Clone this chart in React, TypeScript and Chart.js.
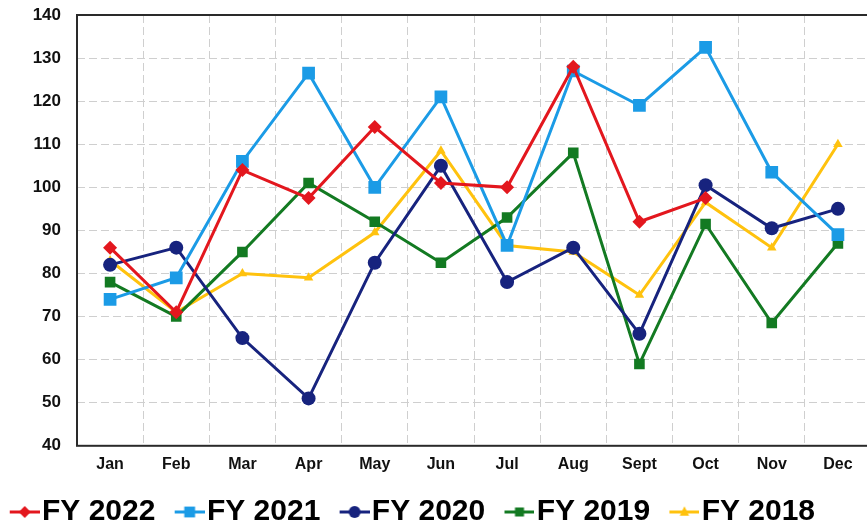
import React, { useEffect, useRef } from "react";
import { Chart, registerables } from "chart.js";

Chart.register(...registerables);

const months = ["Jan", "Feb", "Mar", "Apr", "May", "Jun", "Jul", "Aug", "Sept", "Oct", "Nov", "Dec"];
const fy2022 = [86, 71, 104, 97.5, 114, 101, 100, 128, 92, 97.5, null, null];
const fy2021 = [74, 79, 106, 126.5, 100, 121, 86.5, 127, 119, 132.5, 103.5, 89];
const fy2020 = [82, 86, 65, 51, 82.5, 105, 78, 86, 66, 100.5, 90.5, 95];
const fy2019 = [78, 70, 85, 101, 92, 82.5, 93, 108, 59, 91.5, 68.5, 87];
const fy2018 = [83, 71, 80, 79, 89.5, 108.5, 86.5, 85, 75, 96.5, 86, 110];
const seriesNames = ["FY 2022", "FY 2021", "FY 2020", "FY 2019", "FY 2018"];
const yTicks = { min: 40, max: 140, step: 10 };

const colors = ["#e3171e", "#1b9be6", "#17237e", "#137a22", "#ffc20e"];
const styles = ["rectRot", "rect", "circle", "rect", "triangle"];
const radii = [7, 9, 7, 7.5, 5.5];

const ICON_W = 56;
const LINE_W = 30;

function legendIcon(color: string, style: string, r: number) {
  const c = document.createElement("canvas");
  c.width = ICON_W;
  c.height = 20;
  const ctx = c.getContext("2d")!;
  ctx.strokeStyle = color;
  ctx.fillStyle = color;
  ctx.lineWidth = 3;
  ctx.beginPath();
  ctx.moveTo(ICON_W - LINE_W, 10);
  ctx.lineTo(ICON_W, 10);
  ctx.stroke();
  const cx = ICON_W - LINE_W / 2, cy = 10;
  const rr = r * 0.85;
  ctx.beginPath();
  if (style === "circle") {
    ctx.arc(cx, cy, rr, 0, Math.PI * 2);
  } else if (style === "rect") {
    const h = rr * Math.SQRT1_2;
    ctx.rect(cx - h, cy - h, h * 2, h * 2);
  } else if (style === "rectRot") {
    ctx.moveTo(cx, cy - rr);
    ctx.lineTo(cx + rr, cy);
    ctx.lineTo(cx, cy + rr);
    ctx.lineTo(cx - rr, cy);
    ctx.closePath();
  } else {
    ctx.moveTo(cx, cy - rr - 1);
    ctx.lineTo(cx + rr, cy + rr - 1);
    ctx.lineTo(cx - rr, cy + rr - 1);
    ctx.closePath();
  }
  ctx.fill();
  return c;
}

const framePlugin = {
  id: "frame",
  afterDatasetsDraw(chart: any) {
    const { ctx, chartArea } = chart;
    ctx.save();
    ctx.strokeStyle = "#2a2a2a";
    ctx.lineWidth = 2;
    ctx.strokeRect(chartArea.left, chartArea.top, chartArea.right - chartArea.left, chartArea.bottom - chartArea.top);
    ctx.restore();
  },
};

const PAD_LEFT = -9.5;

export default function App() {
  const ref = useRef<HTMLCanvasElement>(null);
  useEffect(() => {
    const data = [fy2022, fy2021, fy2020, fy2019, fy2018];
    const icons = colors.map((c, i) => legendIcon(c, styles[i], radii[i]));
    const chart = new Chart(ref.current!, {
      type: "line",
      data: {
        labels: months,
        datasets: data.map((d, i) => ({
          label: seriesNames[i],
          data: d,
          borderColor: colors[i],
          backgroundColor: colors[i],
          borderWidth: 3,
          pointStyle: styles[i] as any,
          pointRadius: radii[i],
          pointBorderWidth: 0,
          pointBackgroundColor: colors[i],
          tension: 0,
          spanGaps: false,
        })),
      },
      options: {
        animation: false,
        responsive: true,
        maintainAspectRatio: false,
        layout: { padding: { left: PAD_LEFT, right: 0, top: 15, bottom: 0 } },
        plugins: {
          tooltip: { enabled: false },
          legend: {
            position: "bottom",
            align: "start",
            labels: {
              usePointStyle: true,
              pointStyleWidth: 30.5,
              padding: 6,
              color: "#000",
              font: { family: "'Liberation Sans', Arial, sans-serif", size: 30, weight: "bold" },
              generateLabels: (ch: any) =>
                ch.data.datasets.map((ds: any, i: number) => ({
                  text: ds.label,
                  fillStyle: colors[i],
                  strokeStyle: colors[i],
                  pointStyle: icons[i],
                  datasetIndex: i,
                  hidden: false,
                  lineWidth: 0,
                  fontColor: "#000",
                })),
            },
          },
        },
        scales: {
          x: {
            offset: true,
            grid: { offset: true, color: "#cfcfcf", drawTicks: false },
            border: { display: false, dash: [8, 4] },
            ticks: {
              color: "#111",
              padding: 9,
              font: { family: "'Liberation Sans', Arial, sans-serif", size: 16, weight: "bold" },
            },
            afterFit: (s: any) => {
              s.height += 8;
              s.paddingLeft = 0;
              s.paddingRight = 0;
            },
          },
          y: {
            min: yTicks.min,
            max: yTicks.max,
            ticks: {
              stepSize: yTicks.step,
              color: "#111",
              padding: 16,
              font: { family: "'Liberation Sans', Arial, sans-serif", size: 17, weight: "bold" },
            },
            grid: { color: "#cfcfcf", drawTicks: false },
            border: { display: false, dash: [8, 4] },
            afterFit: (s: any) => {
              s.width = 77 - PAD_LEFT;
              s.paddingTop = 0;
              s.paddingBottom = 0;
            },
          },
        },
      },
      plugins: [framePlugin],
    });
    return () => chart.destroy();
  }, []);
  return (
    <div style={{ position: "fixed", left: 0, top: 0, width: 867, height: 529, overflow: "hidden", background: "#fff" }}>
      <div style={{ position: "relative", width: 880, height: 537 }}>
        <canvas ref={ref} />
      </div>
    </div>
  );
}
